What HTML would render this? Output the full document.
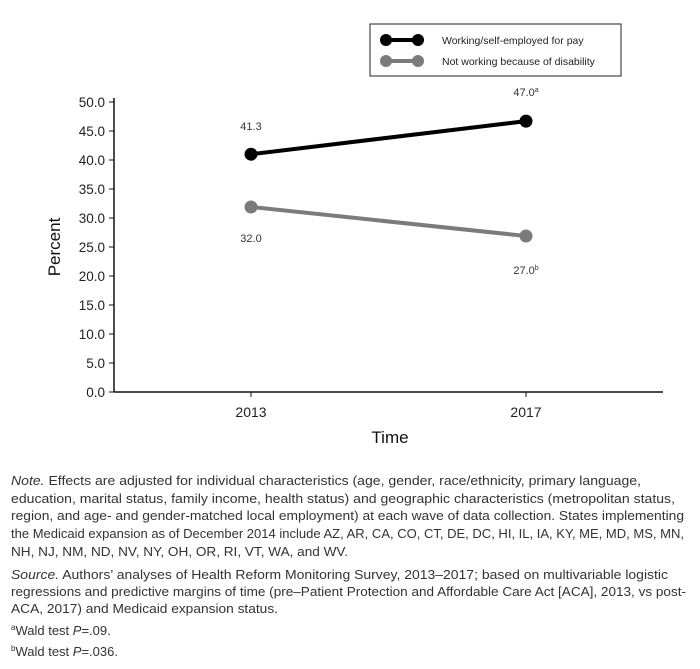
<!DOCTYPE html>
<html><head><meta charset="utf-8"><style>
body{margin:0;width:700px;height:669px;background:#fff;overflow:hidden;font-family:"Liberation Sans",sans-serif;}
</style></head><body>
<svg id="chart" width="700" height="460" style="position:absolute;left:0;top:0" font-family="Liberation Sans, sans-serif"></svg>
<svg id="notes" width="700" height="669" style="position:absolute;left:0;top:0" font-family="Liberation Sans, sans-serif" font-size="13" fill="#333">
<g>
<text x="11" y="485" textLength="630" lengthAdjust="spacingAndGlyphs"><tspan font-style="italic">Note.</tspan> Effects are adjusted for individual characteristics (age, gender, race/ethnicity, primary language,</text>
<text x="11" y="503" textLength="664" lengthAdjust="spacingAndGlyphs">education, marital status, family income, health status) and geographic characteristics (metropolitan status,</text>
<text x="11" y="520" textLength="673" lengthAdjust="spacingAndGlyphs">region, and age- and gender-matched local employment) at each wave of data collection. States implementing</text>
<text x="11" y="538" textLength="673" lengthAdjust="spacingAndGlyphs">the Medicaid expansion as of December 2014 include AZ, AR, CA, CO, CT, DE, DC, HI, IL, IA, KY, ME, MD, MS, MN,</text>
<text x="11" y="556" textLength="337" lengthAdjust="spacingAndGlyphs">NH, NJ, NM, ND, NV, NY, OH, OR, RI, VT, WA, and WV.</text>
</g>
<g>
<text x="11" y="579" textLength="657" lengthAdjust="spacingAndGlyphs"><tspan font-style="italic">Source.</tspan> Authors’ analyses of Health Reform Monitoring Survey, 2013–2017; based on multivariable logistic</text>
<text x="11" y="596" textLength="675" lengthAdjust="spacingAndGlyphs">regressions and predictive margins of time (pre–Patient Protection and Affordable Care Act [ACA], 2013, vs post-</text>
<text x="11" y="613" textLength="267" lengthAdjust="spacingAndGlyphs">ACA, 2017) and Medicaid expansion status.</text>
</g>
<text x="11" y="635"><tspan font-size="8" dy="-5">a</tspan><tspan dy="5">Wald test </tspan><tspan font-style="italic">P</tspan>=.09.</text>
<text x="11" y="656"><tspan font-size="8" dy="-5">b</tspan><tspan dy="5">Wald test </tspan><tspan font-style="italic">P</tspan>=.036.</text>
</svg>
<script>
const categories = ["2013","2017"];
const workingValues = [41.0, 46.7];
const disabilityValues = [31.9, 26.9];
const workingLabels = ["41.3","47.0"];
const disabilityLabels = ["32.0","27.0"];
const workingSup = ["","a"];
const disabilitySup = ["","b"];
const yTicks = [0,5,10,15,20,25,30,35,40,45,50];

const NS="http://www.w3.org/2000/svg";
const svg=document.getElementById('chart');
function mk(t,a,p){const e=document.createElementNS(NS,t);for(const k in a)e.setAttribute(k,a[k]);(p||svg).appendChild(e);return e;}
const x0=114,x1=663,yTop=102,yBot=392;
const yS=v=>yBot-(v/50)*(yBot-yTop);
const xS=i=>251+i*275;

let ax=mk('line',{x1:x0,y1:yTop-4,x2:x0,y2:yBot,stroke:'#111','stroke-width':1.5});

ax=mk('line',{x1:x0,y1:yBot,x2:x1,y2:yBot,stroke:'#111','stroke-width':1.5});

yTicks.forEach(v=>{
  const y=yS(v);
  const tk=mk('line',{x1:x0-5,y1:y,x2:x0,y2:y,stroke:'#111','stroke-width':1});
  
  const t=mk('text',{x:x0-9,y:y+5,'text-anchor':'end','font-size':13.5,fill:'#222'});
  t.textContent=v.toFixed(1);
  
});
categories.forEach((c,i)=>{
  const tk=mk('line',{x1:xS(i),y1:yBot,x2:xS(i),y2:yBot+5,stroke:'#111','stroke-width':1});
  
  const t=mk('text',{x:xS(i),y:yBot+25,'text-anchor':'middle','font-size':14,fill:'#222'});
  t.textContent=c;
  
});
let tt=mk('text',{x:390,y:443,'text-anchor':'middle','font-size':17,fill:'#111'});tt.textContent='Time';

tt=mk('text',{x:60,y:247,'text-anchor':'middle','font-size':17,fill:'#111',transform:'rotate(-90 60 247)'});tt.textContent='Percent';


function series(vals,labels,sups,color,name,below){
  const l=mk('polyline',{points:vals.map((v,i)=>xS(i)+','+yS(v)).join(' '),fill:'none',stroke:color,'stroke-width':4});
  
  vals.forEach((v,i)=>{
    const c=mk('circle',{cx:xS(i),cy:yS(v),r:6.5,fill:color});
    
    const dy=below?(i==0?35:38):(i==0?-24:-25);
    const t=mk('text',{x:xS(i),y:yS(v)+dy,'text-anchor':'middle','font-size':11,fill:'#333'});
    t.textContent=labels[i];
    if(sups[i]){const s=mk('tspan',{dy:-4,'font-size':7},t);s.textContent=sups[i];}
    
  });
}
series(workingValues,workingLabels,workingSup,'#000','working',false);
series(disabilityValues,disabilityLabels,disabilitySup,'#7b7b7b','disability',true);

const lg=mk('g',{});
mk('rect',{x:370,y:24,width:251,height:52,fill:'#fff',stroke:'#222','stroke-width':1},lg);
[['Working/self-employed for pay','#000',40],['Not working because of disability','#7b7b7b',61]].forEach(([txt,col,y],k)=>{
  const g=mk('g',{},lg);
  mk('line',{x1:386,y1:y,x2:418,y2:y,stroke:col,'stroke-width':4},g);
  mk('circle',{cx:386,cy:y,r:6,fill:col},g);mk('circle',{cx:418,cy:y,r:6,fill:col},g);
  const t=mk('text',{x:442,y:y+4,'font-size':10.5,fill:'#222'},g);t.textContent=txt;
});
</script>
</body></html>
